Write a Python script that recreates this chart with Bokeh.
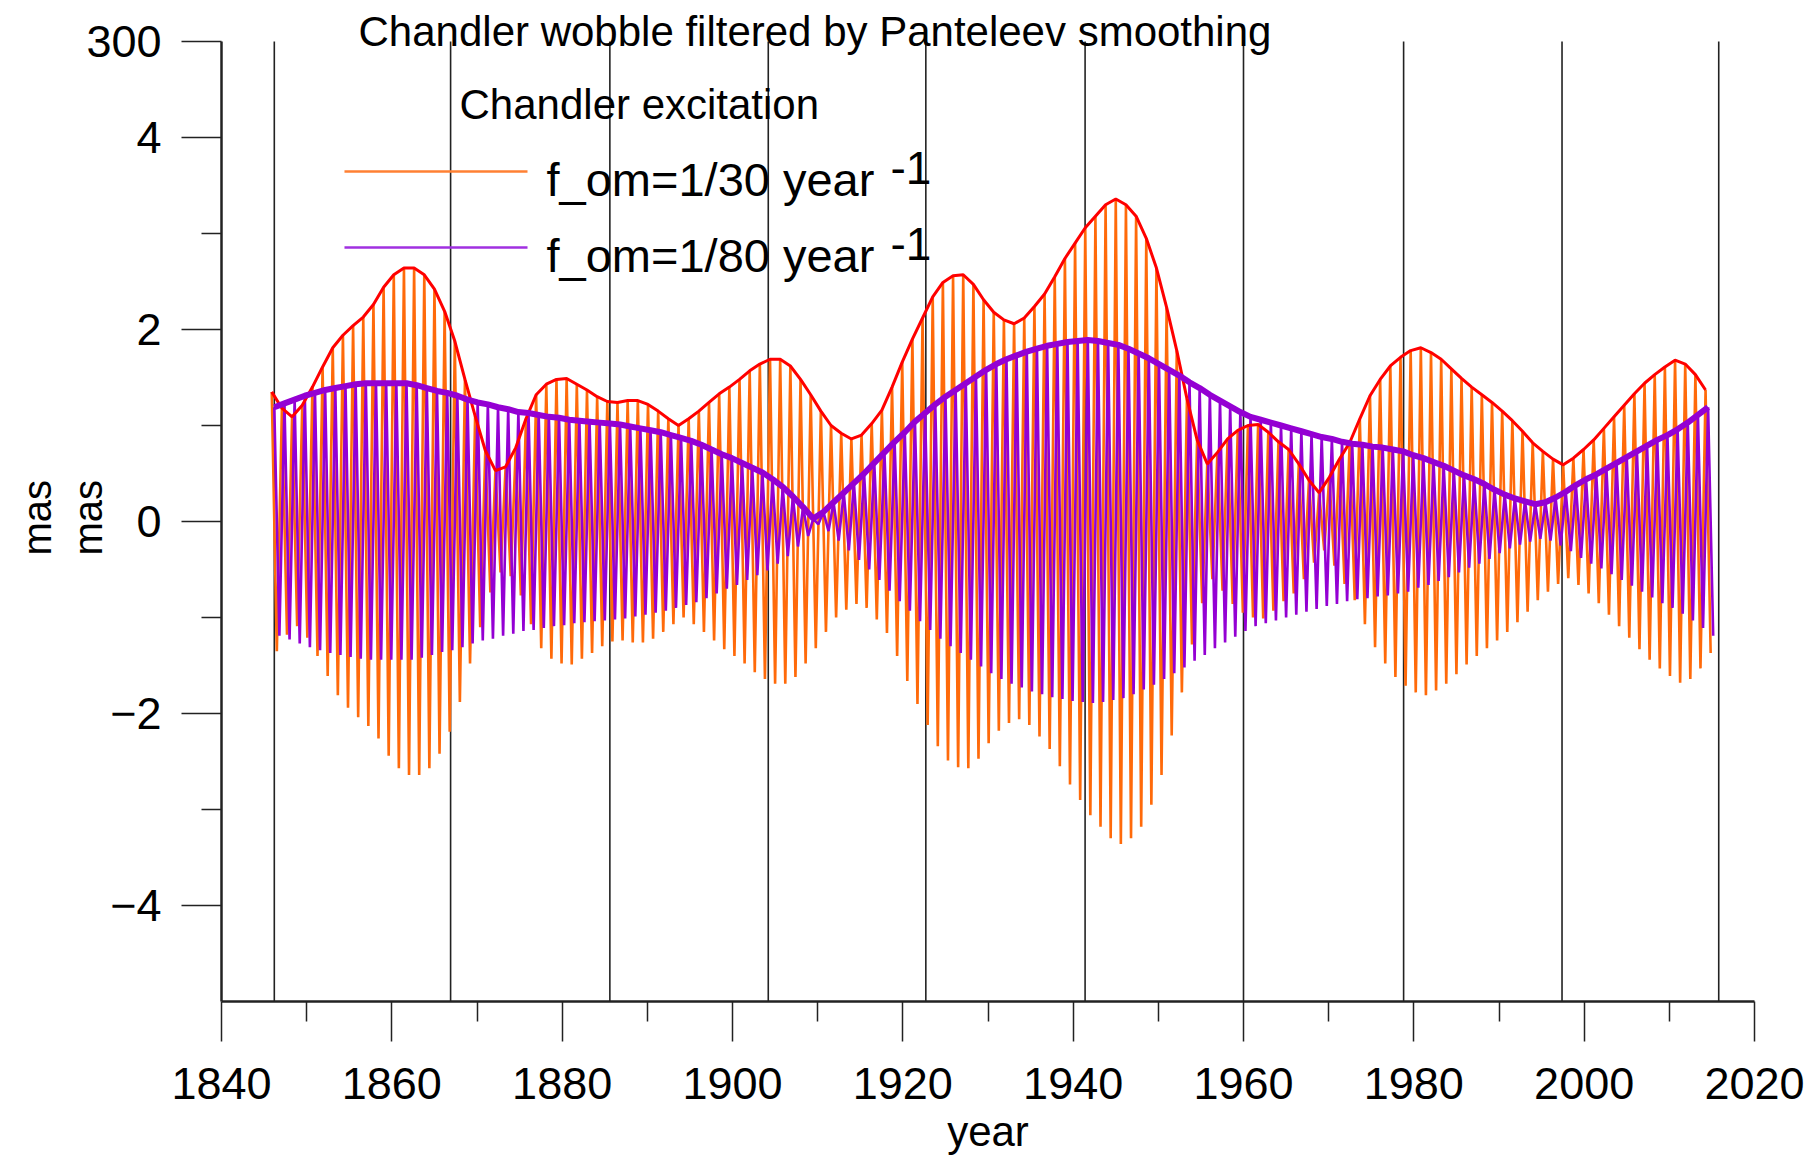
import numpy as np
from bokeh.plotting import figure
from bokeh.models import Range1d, FixedTicker, Label, LinearAxis
from bokeh.embed import file_html
from bokeh.resources import INLINE

# ---------------- data ----------------
title_text = "Chandler wobble filtered by Panteleev smoothing"
legend_title = "Chandler excitation"
series_labels = ["f_om=1/30 year", "f_om=1/80 year"]
superscript = "-1"
x_label = "year"
y_label = "mas"
top_label = "300"

x_ticks = [1840, 1860, 1880, 1900, 1920, 1940, 1960, 1980, 2000, 2020]
x_minor = [1850, 1870, 1890, 1910, 1930, 1950, 1970, 1990, 2010]
y_ticks = [-4, -2, 0, 2, 4, 5]
y_minor = [-3, -1, 1, 3]

# vertical marker lines (years)
nodal_years = [1846.2, 1866.9, 1885.6, 1904.2, 1922.7, 1941.4, 1960.0, 1978.8, 1997.4, 2015.8]

# Chandler cycles: one value per cycle (cycle length in years)
chandler_period = 1.194
first_cycle_30 = 1845.9
first_cycle_80 = 1846.2

# peak amplitude of each Chandler cycle, f_om = 1/30 year^-1 (mas)
amp_30 = [
    1.35, 1.18, 1.09, 1.21, 1.40, 1.61, 1.81, 1.94, 2.04, 2.13,
    2.26, 2.44, 2.57, 2.64, 2.64, 2.57, 2.42, 2.19, 1.88, 1.48,
    1.10, 0.74, 0.53, 0.57, 0.77, 1.07, 1.32, 1.43, 1.48, 1.49,
    1.43, 1.37, 1.30, 1.25, 1.24, 1.26, 1.26, 1.22, 1.15, 1.07,
    1.00, 1.07, 1.15, 1.24, 1.33, 1.40, 1.48, 1.57, 1.64, 1.69,
    1.69, 1.62, 1.48, 1.32, 1.15, 1.00, 0.92, 0.86, 0.90, 1.02,
    1.16, 1.40, 1.66, 1.90, 2.12, 2.34, 2.49, 2.56, 2.57, 2.47,
    2.31, 2.18, 2.10, 2.06, 2.12, 2.24, 2.37, 2.55, 2.74, 2.90,
    3.06, 3.18, 3.30, 3.36, 3.30, 3.18, 2.95, 2.64, 2.23, 1.78,
    1.28, 0.85, 0.60, 0.72, 0.86, 0.95, 1.00, 1.01, 0.93, 0.83,
    0.75, 0.60, 0.43, 0.30, 0.46, 0.65, 0.82, 1.07, 1.31, 1.48,
    1.62, 1.71, 1.78, 1.81, 1.76, 1.69, 1.59, 1.49, 1.40, 1.32,
    1.24, 1.15, 1.05, 0.94, 0.82, 0.73, 0.65, 0.59, 0.66, 0.75,
    0.85, 0.97, 1.09, 1.21, 1.33, 1.44, 1.53, 1.61, 1.68, 1.64,
    1.53, 1.37,
]

# peak amplitude of each Chandler cycle, f_om = 1/80 year^-1 (mas)
amp_80 = [
    1.19, 1.23, 1.27, 1.31, 1.34, 1.37, 1.39, 1.41, 1.43, 1.44,
    1.44, 1.44, 1.44, 1.44, 1.42, 1.39, 1.36, 1.34, 1.31, 1.27,
    1.24, 1.22, 1.19, 1.17, 1.14, 1.13, 1.11, 1.09, 1.08, 1.06,
    1.05, 1.04, 1.03, 1.02, 1.01, 0.99, 0.97, 0.95, 0.93, 0.90,
    0.87, 0.84, 0.80, 0.75, 0.70, 0.66, 0.61, 0.56, 0.51, 0.44,
    0.36, 0.26, 0.15, 0.03, 0.10, 0.20, 0.30, 0.40, 0.50, 0.61,
    0.72, 0.83, 0.93, 1.04, 1.13, 1.22, 1.30, 1.37, 1.44, 1.51,
    1.58, 1.64, 1.69, 1.73, 1.77, 1.80, 1.83, 1.85, 1.87, 1.88,
    1.89, 1.88, 1.86, 1.84, 1.80, 1.75, 1.70, 1.64, 1.58, 1.52,
    1.45, 1.39, 1.32, 1.26, 1.20, 1.14, 1.09, 1.06, 1.03, 1.00,
    0.97, 0.94, 0.91, 0.88, 0.86, 0.83, 0.81, 0.80, 0.78, 0.77,
    0.75, 0.73, 0.69, 0.66, 0.62, 0.58, 0.53, 0.48, 0.44, 0.39,
    0.33, 0.28, 0.24, 0.21, 0.18, 0.20, 0.25, 0.31, 0.38, 0.44,
    0.49, 0.55, 0.61, 0.67, 0.73, 0.79, 0.85, 0.90, 0.96, 1.03,
    1.11, 1.19,
]

# ---------------- styling ----------------
FONT = "Liberation Sans"
ORANGE = "#ff6a0a"
PURPLE = "#9400d3"
RED = "#ff0000"
X0, X1 = 1840, 2020
Y0, Y1 = -5, 5
Y_TOP = 5.4271  # plot area continues above y=5 up to the page top (title lives there)
PAD = "\u00a0\u00a0\u00a0"  # nudges the rotated y titles down to the y=0 level

a30 = np.array(amp_30)
a80 = np.array(amp_80)
years_30 = first_cycle_30 + chandler_period * np.arange(len(a30))
years_80 = first_cycle_80 + chandler_period * np.arange(len(a80))
half = chandler_period / 2.0


def zigzag(years, amp):
    xs = np.column_stack([years, years + half]).ravel()
    ys = np.column_stack([amp, -amp]).ravel()
    return xs, ys


p = figure(width=1812, height=1158, x_range=Range1d(X0, X1), y_range=Range1d(Y0, Y_TOP),
           output_backend="svg", toolbar_location=None,
           min_border_left=221, min_border_right=58, min_border_top=0, min_border_bottom=157)
p.outline_line_color = None
p.grid.visible = False
p.background_fill_color = "white"

for ax in (p.xaxis[0], p.yaxis[0]):
    ax.axis_line_color = "#222222"
    ax.axis_line_width = 2.5
    ax.major_tick_line_color = "#222222"
    ax.minor_tick_line_color = "#222222"
    ax.major_tick_line_width = 1.5
    ax.minor_tick_line_width = 1.5
    ax.major_tick_out = 40
    ax.minor_tick_out = 20
    ax.major_tick_in = 0
    ax.minor_tick_in = 0
    ax.major_label_text_font = FONT
    ax.major_label_text_font_size = "45px"
    ax.major_label_text_color = "black"
    ax.axis_label_text_font = FONT
    ax.axis_label_text_font_style = "normal"
    ax.axis_label_text_color = "black"

p.xaxis[0].ticker = FixedTicker(ticks=x_ticks, minor_ticks=x_minor)
p.yaxis[0].ticker = FixedTicker(ticks=y_ticks, minor_ticks=y_minor)
p.yaxis[0].bounds = (Y0, Y1)
p.yaxis[0].major_label_overrides = {5: top_label}
p.xaxis[0].major_label_standoff = 26
p.yaxis[0].major_label_standoff = 20
p.yaxis[0].major_label_orientation = "horizontal"

p.xaxis[0].axis_label = x_label
p.xaxis[0].axis_label_text_font_size = "42px"
p.xaxis[0].axis_label_standoff = 6

p.yaxis[0].axis_label = y_label + PAD
p.yaxis[0].axis_label_text_font_size = "40px"
p.yaxis[0].axis_label_standoff = -27

outer = LinearAxis(ticker=FixedTicker(ticks=[], minor_ticks=[]), axis_label=y_label + PAD,
                   axis_line_color=None, major_tick_out=0, minor_tick_out=0,
                   major_tick_in=0, minor_tick_in=0, major_label_text_font_size="0px",
                   axis_label_text_font=FONT, axis_label_text_font_style="normal",
                   axis_label_text_font_size="40px", axis_label_text_color="black",
                   axis_label_standoff=5)
p.add_layout(outer, "left")

# vertical marker lines
p.segment(x0=nodal_years, y0=[Y0] * len(nodal_years), x1=nodal_years, y1=[Y1] * len(nodal_years),
          line_color="#222222", line_width=1.6)

# oscillations
zx30, zy30 = zigzag(years_30, a30)
zx80, zy80 = zigzag(years_80, a80)
p.line(zx30, zy30, line_color=ORANGE, line_width=2.6, line_join="bevel")
p.line(zx80, zy80, line_color=PURPLE, line_width=2.6, line_join="bevel")

# envelopes
p.line(years_30, a30, line_color=RED, line_width=3)
p.line(years_80, a80, line_color=PURPLE, line_width=6)

# title (top edge)
p.add_layout(Label(x=1856.09, y=5.104, text=title_text, text_font=FONT,
                   text_font_size="42px", text_baseline="alphabetic", text_color="black"))

# legend
p.add_layout(Label(x=1867.95, y=4.344, text=legend_title, text_font=FONT,
                   text_font_size="42px", text_baseline="alphabetic", text_color="black"))
p.segment(x0=[1854.44], y0=[3.646], x1=[1875.93], y1=[3.646], line_color="#ff8033", line_width=2.5)
p.segment(x0=[1854.44], y0=[2.854], x1=[1875.93], y1=[2.854], line_color="#a030e0", line_width=2.5)
p.add_layout(Label(x=1878.16, y=3.5625, text=series_labels[0], text_font=FONT,
                   text_font_size="47px", text_baseline="alphabetic", text_color="black"))
p.add_layout(Label(x=1878.16, y=2.771, text=series_labels[1], text_font=FONT,
                   text_font_size="47px", text_baseline="alphabetic", text_color="black"))
p.add_layout(Label(x=1918.55, y=3.685, text=superscript, text_font=FONT,
                   text_font_size="46px", text_baseline="alphabetic", text_color="black"))
p.add_layout(Label(x=1918.55, y=2.893, text=superscript, text_font=FONT,
                   text_font_size="46px", text_baseline="alphabetic", text_color="black"))

open("out.html", "w").write(file_html(p, INLINE))
